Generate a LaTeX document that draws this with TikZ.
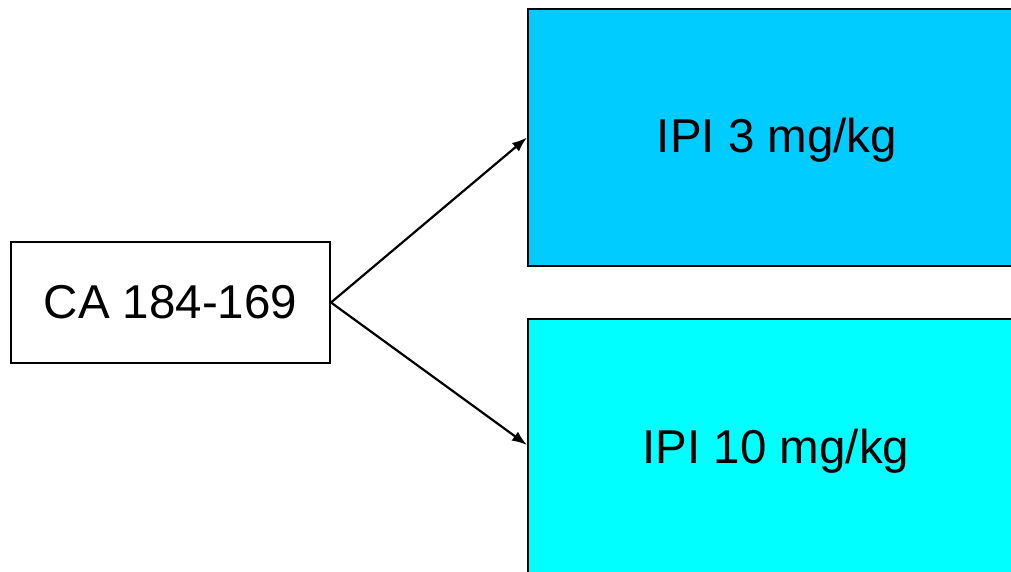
\documentclass[tikz,border=0pt]{standalone}
\usepackage{fontspec}
\setmainfont{Liberation Sans}
\usetikzlibrary{arrows.meta}
\definecolor{topblue}{HTML}{00CCFF}
\definecolor{botcyan}{HTML}{00FFFF}
\begin{document}
\begin{tikzpicture}[x=1pt,y=-1pt,
  box/.style={draw=black,line width=2pt,inner sep=0pt,font=\fontsize{47.5}{56}\selectfont},
  conn/.style={line width=2.2pt,-{Latex[length=15pt,width=11pt]}}]
\useasboundingbox (0,0) rectangle (1011,571);
\clip (0,0) rectangle (1011,571);
\node[box,fill=white,minimum width=319pt,minimum height=121pt] (ca) at (170.5,302.5) {CA 184-169};
\node[box,fill=topblue,minimum width=500pt,minimum height=257pt,anchor=north west] (ipi3) at (527,8) {};
\node[box,fill=botcyan,minimum width=500pt,minimum height=264pt,anchor=north west] (ipi10) at (527,318) {};
\node[font=\fontsize{47.5}{56}\selectfont] (t3) at (777,140) {IPI 3 mg/kg};
\node[font=\fontsize{47.5}{56}\selectfont] (t10) at (776,451) {IPI 10 mg/kg};
\coordinate (e3) at (ipi3.west);
\coordinate (e10) at (527,445);
\draw[conn] (ca.east) -- (e3);
\draw[conn] (ca.east) -- (e10);
\end{tikzpicture}
\end{document}
